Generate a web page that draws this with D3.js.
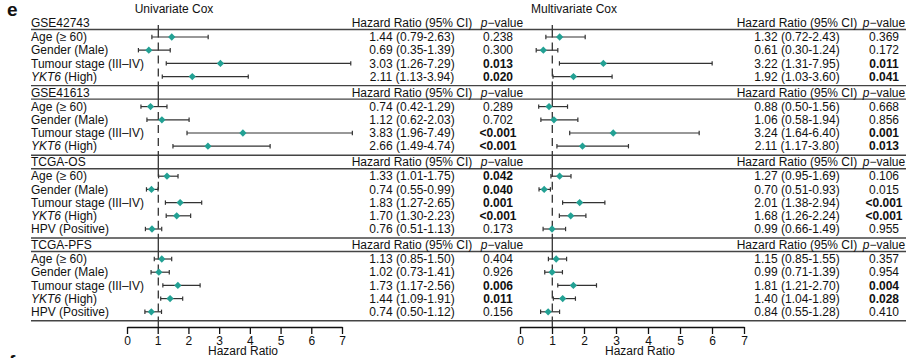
<!DOCTYPE html>
<html>
<head>
<meta charset="utf-8">
<script src="https://cdn.jsdelivr.net/npm/d3@7/dist/d3.min.js"></script>
<style>
  body { margin: 0; background: #fff; }
  text { font-family: "Liberation Sans", Arial, sans-serif; fill: #111; }
</style>
</head>
<body>
<div id="forest"></div>
<script>
// Cohorts and the factors tested in each
var cohorts = ["GSE42743", "GSE41613", "TCGA-OS", "TCGA-PFS"];
var factors = [
    ["Age (≥ 60)", "Gender (Male)", "Tumour stage (III–IV)", "YKT6 (High)"],
    ["Age (≥ 60)", "Gender (Male)", "Tumour stage (III–IV)", "YKT6 (High)"],
    ["Age (≥ 60)", "Gender (Male)", "Tumour stage (III–IV)", "YKT6 (High)", "HPV (Positive)"],
    ["Age (≥ 60)", "Gender (Male)", "Tumour stage (III–IV)", "YKT6 (High)", "HPV (Positive)"]
];

// Univariate Cox
var uniHR = [[1.44, 0.69, 3.03, 2.11], [0.74, 1.12, 3.83, 2.66], [1.33, 0.74, 1.83, 1.70, 0.76], [1.13, 1.02, 1.73, 1.44, 0.74]];
var uniLow = [[0.79, 0.35, 1.26, 1.13], [0.42, 0.62, 1.96, 1.49], [1.01, 0.55, 1.27, 1.30, 0.51], [0.85, 0.73, 1.17, 1.09, 0.50]];
var uniHigh = [[2.63, 1.39, 7.29, 3.94], [1.29, 2.03, 7.49, 4.74], [1.75, 0.99, 2.65, 2.23, 1.13], [1.50, 1.41, 2.56, 1.91, 1.12]];
var uniP = [["0.238", "0.300", "0.013", "0.020"], ["0.289", "0.702", "<0.001", "<0.001"], ["0.042", "0.040", "0.001", "<0.001", "0.173"], ["0.404", "0.926", "0.006", "0.011", "0.156"]];
var uniBold = [[0, 0, 1, 1], [0, 0, 1, 1], [1, 1, 1, 1, 0], [0, 0, 1, 1, 0]];

// Multivariate Cox
var multiHR = [[1.32, 0.61, 3.22, 1.92], [0.88, 1.06, 3.24, 2.11], [1.27, 0.70, 2.01, 1.68, 0.99], [1.15, 0.99, 1.81, 1.40, 0.84]];
var multiLow = [[0.72, 0.30, 1.31, 1.03], [0.50, 0.58, 1.64, 1.17], [0.95, 0.51, 1.38, 1.26, 0.66], [0.85, 0.71, 1.21, 1.04, 0.55]];
var multiHigh = [[2.43, 1.24, 7.95, 3.60], [1.56, 1.94, 6.40, 3.80], [1.69, 0.93, 2.94, 2.24, 1.49], [1.55, 1.39, 2.70, 1.89, 1.28]];
var multiP = [["0.369", "0.172", "0.011", "0.041"], ["0.668", "0.856", "0.001", "0.013"], ["0.106", "0.015", "<0.001", "<0.001", "0.955"], ["0.357", "0.954", "0.004", "0.028", "0.410"]];
var multiBold = [[0, 0, 1, 1], [0, 0, 1, 1], [0, 0, 1, 1, 0], [0, 0, 1, 1, 0]];

// Axis ticks under each plot
var axisTicks = [0, 1, 2, 3, 4, 5, 6, 7];

var width = 922, height = 358;
var svg = d3.select("#forest").append("svg")
    .attr("width", width)
    .attr("height", height);

// Row layout: header row, then one row per factor
var rowStep = 13.2;
var layout = [];
var y = 23;
cohorts.forEach(function (c, i) {
    var sec = {header: y, top: y - 7, headLine: y + 6.5, rows: []};
    for (var r = 0; r < factors[i].length; r++) sec.rows.push(y + 14 + r * rowStep);
    sec.bottom = sec.rows[sec.rows.length - 1] + 9;
    layout.push(sec);
    y = sec.bottom + 7;
});
var tableLeft = 31, tableRight = 906;
var axisY = 327;

// The two plot panels: axis scale plus per-cohort data scale anchored at HR = 1
var panels = [
    {title: "Univariate Cox", titleX: 174, axis: d3.scaleLinear().domain([0, 7]).range([127, 342]),
     ref: 158.3, unit: [30.6, 29.9, 26.3, 26.8], hrX: 412, pX: 498, pHeadX: 502, labelX: 243,
     hr: uniHR, low: uniLow, high: uniHigh, p: uniP, bold: uniBold},
    {title: "Multivariate Cox", titleX: 574, axis: d3.scaleLinear().domain([0, 7]).range([520, 744]),
     ref: 552.3, unit: [23.0, 27.2, 27.1, 26.0], hrX: 797, pX: 884, pHeadX: 884, labelX: 640,
     hr: multiHR, low: multiLow, high: multiHigh, p: multiP, bold: multiBold}
];

var fs = 12;
var teal = "#23a194";

// Panel letters
svg.append("text").attr("x", 7).attr("y", 16)
    .style("font-size", "19px").style("font-weight", "bold").text("e");
svg.append("text").attr("x", 9).attr("y", 368)
    .style("font-size", "19px").style("font-weight", "bold").text("f");

// Horizontal rules
var rules = [];
layout.forEach(function (s, i) {
    if (i > 0) rules.push(s.top);
    rules.push(s.headLine);
});
rules.push(layout[layout.length - 1].bottom);
svg.append("g").selectAll("line").data(rules).enter().append("line")
    .attr("x1", tableLeft).attr("x2", tableRight)
    .attr("y1", function (d) { return d; }).attr("y2", function (d) { return d; })
    .style("stroke", "#444").style("stroke-width", 1.4);

// Cohort names and factor labels
layout.forEach(function (s, i) {
    svg.append("text").attr("x", tableLeft).attr("y", s.header).attr("dy", "0.35em")
        .style("font-size", fs + "px").text(cohorts[i]);
    factors[i].forEach(function (f, r) {
        var t = svg.append("text").attr("x", tableLeft).attr("y", s.rows[r]).attr("dy", "0.35em")
            .style("font-size", fs + "px");
        if (f.indexOf("YKT6") === 0) {
            t.append("tspan").style("font-style", "italic").text("YKT6");
            t.append("tspan").text(f.slice(4));
        } else {
            t.text(f);
        }
    });
});

panels.forEach(function (pn) {
    // Title
    svg.append("text").attr("x", pn.titleX).attr("y", 9).attr("dy", "0.35em")
        .attr("text-anchor", "middle").style("font-size", fs + "px").text(pn.title);

    // Reference line at HR = 1
    var ref = svg.append("g").style("stroke", "#333").style("stroke-width", 1.3);
    layout.forEach(function (s, i) {
        ref.append("line").attr("x1", pn.ref).attr("x2", pn.ref)
            .attr("y1", i === 0 ? 25 : s.top).attr("y2", s.headLine);
        ref.append("line").attr("x1", pn.ref).attr("x2", pn.ref)
            .attr("y1", s.headLine).attr("y2", s.bottom)
            .style("stroke-dasharray", "8,5");
    });
    ref.append("line").attr("x1", pn.ref).attr("x2", pn.ref)
        .attr("y1", layout[layout.length - 1].bottom).attr("y2", axisY);

    layout.forEach(function (s, i) {
        // Column headers
        svg.append("text").attr("x", pn.hrX).attr("y", s.header).attr("dy", "0.35em")
            .attr("text-anchor", "middle").style("font-size", fs + "px").text("Hazard Ratio (95% CI)");
        var ph = svg.append("text").attr("x", pn.pHeadX).attr("y", s.header).attr("dy", "0.35em")
            .attr("text-anchor", "middle").style("font-size", fs + "px");
        ph.append("tspan").style("font-style", "italic").text("p");
        ph.append("tspan").text("\u2212value");

        // Scale for this cohort's plot
        var x = d3.scaleLinear().domain([1, 2]).range([pn.ref, pn.ref + pn.unit[i]]);

        var rows = svg.append("g").selectAll("g")
            .data(pn.hr[i]).enter().append("g")
            .attr("transform", function (d, r) { return "translate(0," + s.rows[r] + ")"; });

        // Confidence interval whiskers
        rows.append("line")
            .attr("x1", function (d, r) { return x(pn.low[i][r]); })
            .attr("x2", function (d, r) { return x(pn.high[i][r]); })
            .style("stroke", "#333").style("stroke-width", 1.2);
        rows.append("line")
            .attr("x1", function (d, r) { return x(pn.low[i][r]); })
            .attr("x2", function (d, r) { return x(pn.low[i][r]); })
            .attr("y1", -2.2).attr("y2", 2.2)
            .style("stroke", "#333").style("stroke-width", 1.2);
        rows.append("line")
            .attr("x1", function (d, r) { return x(pn.high[i][r]); })
            .attr("x2", function (d, r) { return x(pn.high[i][r]); })
            .attr("y1", -2.2).attr("y2", 2.2)
            .style("stroke", "#333").style("stroke-width", 1.2);

        // Diamond at the hazard ratio
        rows.append("path")
            .attr("d", d3.symbol().type(d3.symbolDiamond2).size(34))
            .attr("transform", function (d) { return "translate(" + x(d) + ",0)"; })
            .style("fill", teal);

        // HR (95% CI) text and p-value
        rows.append("text")
            .attr("x", pn.hrX).attr("dy", "0.35em").attr("text-anchor", "middle")
            .style("font-size", fs + "px")
            .text(function (d, r) {
                return d.toFixed(2) + " (" + pn.low[i][r].toFixed(2) + "-" + pn.high[i][r].toFixed(2) + ")";
            });
        rows.append("text")
            .attr("x", pn.pX).attr("dy", "0.35em").attr("text-anchor", "middle")
            .style("font-size", fs + "px")
            .style("font-weight", function (d, r) { return pn.bold[i][r] ? "bold" : "normal"; })
            .text(function (d, r) { return pn.p[i][r]; });
    });

    // Bottom axis
    var ax = svg.append("g")
        .attr("transform", "translate(0," + axisY + ")")
        .call(d3.axisBottom(pn.axis).tickValues(axisTicks).tickFormat(d3.format("d"))
            .tickSize(7).tickPadding(2).tickSizeOuter(0));
    ax.select(".domain").style("stroke", "#111").style("stroke-width", 1.3);
    ax.selectAll(".tick line").style("stroke", "#111").style("stroke-width", 1.3);
    ax.selectAll("text").style("font-size", fs + "px")
        .style("font-family", "'Liberation Sans', Arial, sans-serif").attr("fill", "#111");

    svg.append("text").attr("x", pn.labelX).attr("y", 355)
        .attr("text-anchor", "middle").style("font-size", fs + "px").text("Hazard Ratio");
});
</script>
</body>
</html>
